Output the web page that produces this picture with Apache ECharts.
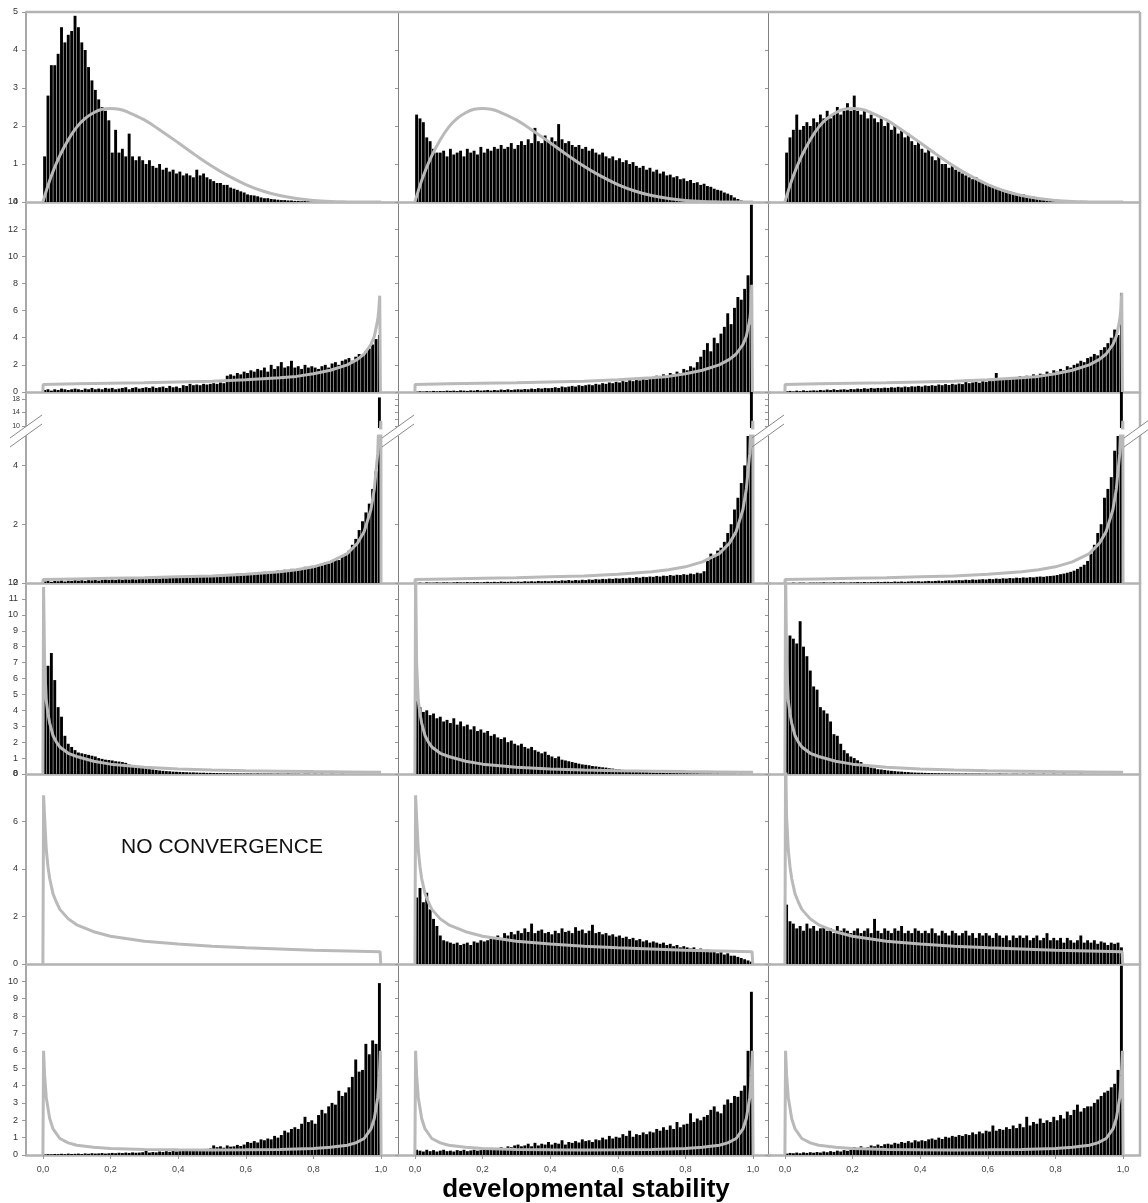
<!DOCTYPE html>
<html><head><meta charset="utf-8">
<script src="https://cdn.jsdelivr.net/npm/echarts@6/dist/echarts.min.js"></script>
<style>html,body{margin:0;padding:0;background:#fff}#c{width:1148px;height:1203px}</style>
</head><body><div id="c"></div>
<script>
// ---------- DATA (histogram bins of width 0.01 from 0 to 1) ----------
const binWidth = 0.01;
const xTicks = [0, 0.2, 0.4, 0.6, 0.8, 1.0];
const yTicks1 = [0, 1, 2, 3, 4, 5];
const yTicks2 = [0, 2, 4, 6, 8, 10, 12, 14];
const yTicks3Low = [0, 2, 4];
const yTicks3High = [10, 12, 14, 16, 18];
const yTicks4 = [0, 1, 2, 3, 4, 5, 6, 7, 8, 9, 10, 11, 12];
const yTicks5 = [0, 2, 4, 6, 8];
const yTicks6 = [0, 1, 2, 3, 4, 5, 6, 7, 8, 9, 10];

const r1c1 = [1.2,2.8,3.6,3.6,3.9,4.6,4.2,4.4,4.5,4.9,
4.6,4.2,4.0,3.55,3.2,2.95,2.7,2.5,2.4,2.15,
1.3,1.9,1.3,1.4,1.2,1.8,1.2,1.1,1.2,1.1,
1.0,1.1,0.95,0.9,1.0,0.85,0.9,0.8,0.85,0.75,
0.8,0.7,0.75,0.7,0.65,0.85,0.7,0.75,0.65,0.6,
0.55,0.5,0.5,0.45,0.45,0.38,0.35,0.32,0.28,0.25,
0.2,0.18,0.17,0.15,0.12,0.1,0.1,0.08,0.07,0.06,
0.05,0.05,0.04,0.04,0.03,0.03,0.02,0.03,0.02,0.01,
0,0,0,0,0,0,0,0,0,0,
0,0,0,0,0,0,0,0,0,0];
const r1c2 = [2.3,2.2,2.1,1.7,1.6,1.4,1.3,1.3,1.35,1.2,
1.4,1.25,1.3,1.35,1.2,1.4,1.3,1.35,1.25,1.45,
1.3,1.4,1.35,1.45,1.4,1.5,1.4,1.45,1.55,1.4,
1.5,1.6,1.5,1.65,1.55,1.95,1.6,1.55,1.75,1.6,
1.7,1.6,2.05,1.65,1.55,1.6,1.5,1.45,1.5,1.4,
1.45,1.35,1.4,1.3,1.25,1.3,1.2,1.15,1.2,1.1,
1.15,1.05,1.1,1.0,1.05,0.95,0.9,0.95,0.85,0.9,
0.8,0.85,0.75,0.8,0.7,0.72,0.65,0.68,0.6,0.62,
0.55,0.58,0.5,0.52,0.45,0.48,0.42,0.4,0.35,0.32,
0.3,0.25,0.22,0.18,0.12,0.08,0.04,0.02,0,0];
const r1c3 = [1.3,1.7,1.9,2.3,1.9,2.0,2.1,2.0,2.2,2.1,
2.3,2.2,2.4,2.2,2.3,2.5,2.3,2.4,2.6,2.4,
2.8,2.4,2.3,2.4,2.2,2.3,2.2,2.1,2.2,2.0,
2.1,1.9,2.0,1.8,1.9,1.7,1.8,1.6,1.5,1.6,
1.4,1.3,1.4,1.2,1.1,1.2,1.0,1.0,0.9,0.95,
0.85,0.8,0.75,0.7,0.65,0.6,0.65,0.55,0.5,0.45,
0.45,0.4,0.38,0.35,0.32,0.3,0.28,0.25,0.22,0.2,
0.2,0.17,0.15,0.14,0.12,0.1,0.1,0.08,0.07,0.06,
0.06,0.05,0.04,0.05,0.03,0.03,0.02,0.03,0.02,0.01,
0.02,0.01,0,0,0,0,0,0,0,0];

const r2c1 = [0.15,0.2,0.1,0.2,0.15,0.25,0.2,0.15,0.2,0.25,
0.2,0.15,0.25,0.2,0.3,0.2,0.25,0.2,0.3,0.25,
0.3,0.2,0.25,0.3,0.35,0.2,0.3,0.35,0.25,0.3,
0.35,0.3,0.4,0.3,0.35,0.4,0.3,0.45,0.35,0.4,
0.3,0.5,0.45,0.6,0.5,0.55,0.5,0.6,0.55,0.6,
0.65,0.6,0.7,0.65,1.2,1.3,1.2,1.4,1.3,1.5,
1.4,1.6,1.5,1.7,1.6,1.8,1.5,2.0,1.7,1.9,
2.2,1.8,1.9,2.3,1.8,1.9,1.7,2.0,1.8,1.9,
1.8,1.7,1.9,2.0,1.8,2.1,2.2,2.0,2.3,2.4,
2.5,2.3,2.6,2.8,2.7,3.0,3.2,3.5,3.9,4.2];
const r2c2 = [0.02,0.05,0.03,0.06,0.04,0.08,0.05,0.07,0.06,0.1,
0.08,0.1,0.07,0.12,0.1,0.08,0.12,0.1,0.15,0.1,
0.12,0.15,0.1,0.15,0.12,0.18,0.15,0.2,0.15,0.18,
0.2,0.18,0.22,0.2,0.25,0.22,0.28,0.25,0.3,0.28,
0.3,0.35,0.3,0.4,0.35,0.4,0.45,0.4,0.5,0.45,
0.5,0.55,0.5,0.6,0.55,0.65,0.6,0.7,0.65,0.75,
0.7,0.8,0.75,0.9,0.8,0.95,0.85,1.0,0.9,1.1,
1.0,1.2,1.1,1.3,1.2,1.4,1.3,1.5,1.4,1.7,
1.6,1.9,1.8,2.2,2.6,3.1,3.6,3.0,4.0,3.6,
4.3,4.8,5.8,5.0,6.2,7.0,6.8,7.6,8.6,13.8];
const r2c3 = [0.05,0.08,0.04,0.1,0.06,0.12,0.08,0.1,0.12,0.1,
0.15,0.12,0.18,0.14,0.2,0.15,0.18,0.2,0.16,0.22,
0.2,0.25,0.22,0.28,0.24,0.3,0.26,0.3,0.28,0.32,
0.3,0.35,0.32,0.38,0.34,0.4,0.36,0.42,0.4,0.45,
0.4,0.48,0.45,0.5,0.46,0.55,0.5,0.58,0.52,0.6,
0.55,0.62,0.58,0.9,0.65,0.7,0.75,0.68,0.8,0.75,
0.85,0.8,1.4,0.9,0.95,1.0,0.9,1.1,1.0,1.15,
1.1,1.2,1.15,1.3,1.2,1.35,1.3,1.5,1.4,1.6,
1.5,1.7,1.6,1.9,1.8,2.0,2.1,2.3,2.2,2.5,
2.6,2.8,2.7,3.1,3.3,3.6,4.0,4.6,4.2,7.3];

const r3c1 = [0.05,0.08,0.04,0.07,0.06,0.09,0.05,0.08,0.07,0.1,
0.08,0.1,0.07,0.11,0.09,0.12,0.08,0.1,0.13,0.1,
0.12,0.1,0.14,0.11,0.13,0.12,0.15,0.12,0.14,0.16,
0.13,0.16,0.14,0.17,0.15,0.18,0.16,0.19,0.17,0.2,
0.18,0.2,0.19,0.22,0.2,0.23,0.21,0.24,0.22,0.26,
0.24,0.26,0.25,0.28,0.26,0.3,0.27,0.32,0.29,0.31,
0.3,0.34,0.32,0.36,0.33,0.38,0.35,0.4,0.37,0.42,
0.4,0.45,0.42,0.48,0.46,0.5,0.48,0.55,0.52,0.58,
0.56,0.62,0.6,0.7,0.66,0.75,0.8,0.78,0.9,1.0,
1.1,1.3,1.5,1.8,2.1,2.4,2.7,3.2,3.8,18.4];
const r3c2 = [0,0.01,0,0.02,0.01,0.01,0.02,0.01,0.02,0.02,
0.01,0.02,0.03,0.02,0.02,0.03,0.02,0.03,0.03,0.02,
0.03,0.04,0.03,0.04,0.03,0.05,0.04,0.04,0.05,0.04,
0.05,0.04,0.06,0.05,0.06,0.05,0.07,0.06,0.07,0.06,
0.07,0.08,0.07,0.09,0.08,0.1,0.08,0.1,0.09,0.11,
0.1,0.12,0.11,0.13,0.12,0.14,0.13,0.15,0.14,0.16,
0.15,0.17,0.16,0.18,0.17,0.2,0.18,0.21,0.2,0.22,
0.21,0.24,0.22,0.25,0.24,0.27,0.25,0.28,0.27,0.3,
0.28,0.32,0.3,0.35,0.33,0.4,0.75,1.0,0.95,1.1,
1.2,1.4,1.7,2.0,2.5,2.9,3.4,4.0,5.6,20];
const r3c3 = [0,0,0.01,0,0.01,0.01,0,0.01,0.01,0.01,
0.01,0.02,0.01,0.01,0.02,0.01,0.02,0.02,0.01,0.02,
0.02,0.03,0.02,0.03,0.02,0.03,0.03,0.04,0.03,0.04,
0.04,0.03,0.05,0.04,0.05,0.04,0.05,0.06,0.05,0.06,
0.05,0.06,0.07,0.06,0.07,0.08,0.07,0.08,0.09,0.08,
0.09,0.1,0.09,0.11,0.1,0.12,0.11,0.12,0.13,0.12,
0.14,0.13,0.15,0.14,0.16,0.15,0.17,0.16,0.18,0.17,
0.19,0.18,0.2,0.19,0.21,0.22,0.21,0.23,0.24,0.25,
0.27,0.3,0.32,0.35,0.38,0.42,0.48,0.55,0.62,0.75,
1.0,1.3,1.7,2.0,2.9,3.2,3.6,4.5,7.0,20];

const r4c1 = [5.0,6.8,7.6,5.9,4.2,3.6,2.4,1.9,1.7,1.5,
1.35,1.3,1.25,1.2,1.15,1.1,1.0,0.95,0.9,0.88,
0.85,0.8,0.78,0.75,0.7,0.6,0.55,0.5,0.45,0.4,
0.35,0.3,0.28,0.25,0.22,0.2,0.18,0.17,0.15,0.14,
0.13,0.12,0.11,0.1,0.1,0.09,0.08,0.08,0.07,0.07,
0.06,0.06,0.05,0.05,0.05,0.04,0.04,0.04,0.03,0.03,
0.03,0.03,0.02,0.03,0.02,0.02,0.02,0.02,0.01,0.02,
0.01,0.01,0.02,0.01,0.01,0.01,0,0.01,0.01,0,
0.01,0,0.01,0,0,0.01,0,0,0.01,0,
0,0,0,0,0,0,0,0,0,0];
const r4c2 = [4.6,4.2,3.9,4.0,3.7,3.8,3.5,3.6,3.3,3.4,
3.2,3.5,3.1,3.3,3.0,3.1,2.8,3.0,2.7,2.8,
2.6,2.7,2.4,2.5,2.3,2.2,2.3,2.0,2.1,1.9,
1.8,1.9,1.7,1.6,1.7,1.5,1.4,1.3,1.4,1.2,
1.1,1.0,1.1,0.9,0.85,0.8,0.75,0.7,0.65,0.6,
0.58,0.55,0.5,0.48,0.45,0.42,0.4,0.36,0.34,0.3,
0.28,0.26,0.24,0.22,0.2,0.18,0.15,0.13,0.12,0.1,
0.09,0.08,0.08,0.07,0.06,0.06,0.05,0.05,0.04,0.04,
0.04,0.03,0.03,0.03,0.02,0.02,0.02,0.02,0.01,0.02,
0.01,0.01,0.01,0.01,0.01,0,0.01,0,0,0];
const r4c3 = [7.4,8.7,8.5,8.2,9.6,8.0,7.4,6.5,5.5,5.3,
4.2,4.0,3.8,3.3,2.5,2.4,1.9,1.5,1.3,1.1,
1.0,0.86,0.75,0.6,0.5,0.4,0.36,0.3,0.28,0.25,
0.22,0.2,0.18,0.16,0.15,0.13,0.12,0.1,0.09,0.08,
0.08,0.07,0.06,0.06,0.05,0.05,0.04,0.04,0.04,0.03,
0.03,0.03,0.02,0.03,0.02,0.02,0.02,0.02,0.01,0.02,
0.01,0.01,0.01,0.02,0.01,0.01,0,0.01,0.01,0,
0.01,0,0.01,0.01,0,0,0.01,0,0,0.01,
0,0,0.01,0,0,0,0,0.01,0,0,
0,0,0,0,0,0,0,0,0,0];

const r5c2 = [2.8,3.2,2.6,3.0,2.3,1.9,1.6,1.2,1.0,0.95,
0.9,0.85,0.9,0.8,0.85,0.9,0.8,0.95,0.9,1.0,
0.95,1.0,1.1,1.05,1.2,1.1,1.3,1.2,1.35,1.25,
1.4,1.3,1.5,1.35,1.7,1.3,1.4,1.45,1.3,1.35,
1.25,1.4,1.3,1.5,1.35,1.4,1.3,1.55,1.4,1.45,
1.3,1.4,1.65,1.3,1.35,1.25,1.3,1.2,1.25,1.15,
1.2,1.1,1.15,1.05,1.1,1.0,1.05,0.95,1.0,0.9,
0.95,0.9,0.85,0.9,0.8,0.85,0.75,0.8,0.7,0.75,
0.7,0.65,0.7,0.6,0.65,0.55,0.6,0.5,0.55,0.45,
0.5,0.4,0.45,0.35,0.35,0.3,0.25,0.2,0.15,0.1];
const r5c3 = [2.5,1.8,1.7,1.5,1.6,1.4,1.7,1.5,1.6,1.4,
1.5,1.6,1.4,1.5,1.3,1.6,1.4,1.5,1.4,1.3,
1.4,1.5,1.3,1.4,1.5,1.3,1.9,1.4,1.3,1.5,
1.4,1.3,1.5,1.4,1.6,1.3,1.4,1.3,1.5,1.4,
1.3,1.4,1.3,1.5,1.3,1.2,1.4,1.3,1.2,1.4,
1.3,1.2,1.3,1.4,1.2,1.3,1.1,1.3,1.2,1.3,
1.2,1.1,1.3,1.2,1.1,1.2,1.0,1.2,1.1,1.2,
1.1,1.2,1.0,1.1,1.2,1.0,1.1,1.3,1.0,1.1,
1.0,1.1,0.9,1.1,1.0,0.9,1.0,1.2,0.9,1.0,
0.9,1.0,0.85,0.95,0.9,0.8,0.9,0.85,0.9,0.7];

const r6c1 = [0.03,0.05,0.04,0.06,0.05,0.07,0.05,0.08,0.06,0.07,
0.08,0.06,0.09,0.07,0.1,0.08,0.09,0.11,0.08,0.1,
0.12,0.1,0.13,0.11,0.14,0.12,0.15,0.13,0.14,0.16,
0.35,0.14,0.17,0.15,0.2,0.17,0.22,0.18,0.25,0.2,
0.22,0.26,0.24,0.28,0.3,0.27,0.33,0.3,0.35,0.38,
0.55,0.45,0.5,0.42,0.55,0.48,0.5,0.58,0.52,0.6,
0.75,0.7,0.8,0.72,0.9,0.85,0.95,0.9,1.1,1.0,
1.15,1.4,1.3,1.5,1.6,1.5,1.8,2.2,1.9,2.0,
1.8,2.3,2.6,2.4,2.8,3.0,2.9,3.7,3.4,3.6,
3.9,4.5,5.5,4.8,4.9,6.4,5.8,6.6,6.4,9.9];
const r6c2 = [0.3,0.25,0.2,0.3,0.22,0.28,0.2,0.25,0.3,0.22,
0.25,0.2,0.28,0.24,0.3,0.22,0.26,0.3,0.25,0.28,
0.3,0.35,0.3,0.4,0.35,0.45,0.4,0.5,0.45,0.55,
0.6,0.5,0.55,0.65,0.5,0.7,0.55,0.65,0.6,0.75,
0.6,0.7,0.65,0.85,0.6,0.75,0.7,0.8,0.72,0.9,
0.8,0.85,0.75,0.9,0.85,1.0,0.9,1.1,0.95,1.05,
1.0,1.2,1.1,1.4,1.05,1.2,1.15,1.3,1.2,1.35,
1.3,1.5,1.4,1.6,1.45,1.7,1.5,1.9,1.6,1.75,
1.8,2.4,1.9,2.1,2.0,2.2,2.3,2.6,2.8,2.5,
2.4,2.9,3.2,3.0,3.4,3.35,3.7,4.0,6.0,9.4];
const r6c3 = [0.08,0.12,0.1,0.14,0.1,0.15,0.12,0.16,0.13,0.17,
0.14,0.2,0.16,0.22,0.18,0.25,0.2,0.28,0.24,0.3,
0.45,0.35,0.5,0.4,0.45,0.55,0.5,0.6,0.52,0.62,
0.65,0.6,0.7,0.65,0.75,0.7,0.8,0.72,0.85,0.78,
0.85,0.8,0.9,0.95,0.88,1.0,0.92,1.05,1.0,1.1,
1.05,1.15,1.1,1.2,1.15,1.3,1.2,1.35,1.25,1.4,
1.35,1.7,1.4,1.5,1.45,1.6,1.5,1.7,1.55,1.8,
1.6,2.2,1.7,1.9,1.8,2.1,1.85,2.0,1.9,2.2,
2.0,2.3,2.1,2.5,2.3,2.6,2.9,2.5,2.7,2.8,
2.8,3.0,3.2,3.4,3.6,3.7,3.9,4.1,4.9,10.9];

// fitted density curves
const curve1X = [0,0.025,0.05,0.075,0.1,0.125,0.15,0.175,0.2,0.225,0.25,0.3,0.35,0.4,0.45,0.5,0.55,0.6,0.65,0.7,0.75,0.8,0.85,0.9,0.95,1.0];
const curve1Y = [0,0.69,1.22,1.64,1.97,2.2,2.35,2.44,2.46,2.44,2.37,2.16,1.87,1.56,1.24,0.94,0.68,0.46,0.29,0.17,0.09,0.04,0.013,0.003,0,0];
const curve2X = [0,0.0005,0.1,0.2,0.3,0.4,0.5,0.6,0.7,0.75,0.8,0.85,0.9,0.93,0.95,0.97,0.98,0.99,0.993,0.996,0.998];
const curve2Y = [0,0.55,0.6,0.64,0.68,0.74,0.8,0.9,1.05,1.15,1.35,1.6,2.0,2.4,2.8,3.5,4.1,5.3,6.0,7.1,0];
const curve3X = [0,0.0005,0.1,0.2,0.3,0.4,0.5,0.6,0.7,0.75,0.8,0.85,0.9,0.93,0.95,0.97,0.98,0.99,0.995,0.998,0.9992,0.9998];
const curve3Y = [0,0.12,0.14,0.16,0.18,0.21,0.24,0.3,0.38,0.45,0.55,0.72,1.0,1.35,1.75,2.5,3.2,4.4,6.0,8.5,11.5,0];
const curve4X = [0,0.002,0.005,0.01,0.015,0.02,0.03,0.04,0.05,0.075,0.1,0.15,0.2,0.3,0.4,0.5,0.6,0.7,0.8,0.9,1.0];
const curve4Y = [0,11.75,7.0,4.6,3.8,3.2,2.4,2.0,1.7,1.3,1.1,0.8,0.62,0.42,0.32,0.25,0.21,0.18,0.15,0.13,0.11];
const curve5X = [0,0.002,0.005,0.01,0.015,0.02,0.03,0.04,0.05,0.075,0.1,0.15,0.2,0.3,0.4,0.5,0.6,0.7,0.8,0.9,0.997,0.999];
const curve5Y = [0,7.1,6.2,4.8,4.1,3.6,2.95,2.6,2.3,1.9,1.65,1.36,1.17,0.96,0.84,0.75,0.68,0.63,0.58,0.55,0.52,0];
const curve6X = [0,0.002,0.005,0.01,0.02,0.03,0.05,0.075,0.1,0.15,0.2,0.3,0.4,0.5,0.6,0.7,0.8,0.85,0.9,0.925,0.95,0.97,0.98,0.99,0.995,0.998,1.0];
const curve6Y = [0,6.0,4.6,3.3,2.1,1.5,0.95,0.7,0.56,0.44,0.38,0.32,0.3,0.29,0.3,0.32,0.38,0.44,0.56,0.7,0.95,1.5,2.1,3.3,4.6,6.0,0];
// spike height per panel (null = as in curve)
const spikePeaks = [[null,null,null],[7.1,7.9,7.3],[null,null,null],[11.75,13,13],[7.1,7.1,9],[null,null,null]];

// ---------- LAYOUT ----------
const LEFTS = [26, 398, 768], W = 372, RIGHT = 1140;
const rowSpecs = [
  [{top:12,  h:190, min:0, max:5,  ticks:yTicks1}],
  [{top:202, h:190, min:0, max:14, ticks:yTicks2}],
  [{top:436, h:147, min:0, max:5,  ticks:yTicks3Low}, {top:392, h:36, min:9.4, max:20, ticks:yTicks3High, upper:true}],
  [{top:583, h:191, min:0, max:12, ticks:yTicks4}],
  [{top:774, h:190, min:0, max:8,  ticks:yTicks5}],
  [{top:964, h:191, min:0, max:11, ticks:yTicks6}]
];
const hist = [[r1c1,r1c2,r1c3],[r2c1,r2c2,r2c3],[r3c1,r3c2,r3c3],[r4c1,r4c2,r4c3],[null,r5c2,r5c3],[r6c1,r6c2,r6c3]];
const curves = [[curve1X,curve1Y],[curve2X,curve2Y],[curve3X,curve3Y],[curve4X,curve4Y],[curve5X,curve5Y],[curve6X,curve6Y]];
const binX = hist[0][0].map((_, i) => +((i + 0.5) * binWidth).toFixed(4));

const FONT = 'Liberation Sans, Arial, Helvetica, sans-serif';
const grid = [], xAxis = [], yAxis = [], series = [];
let g = 0;
for (let r = 0; r < 6; r++) {
  for (let c = 0; c < 3; c++) {
    for (const s of rowSpecs[r]) {
      const bottomRow = (r === 5);
      grid.push({left: LEFTS[c], top: s.top, width: W, height: s.h, containLabel: false});
      xAxis.push({
        gridIndex: g, type: 'value', min: -0.05, max: 1.05,
        axisLine: {show: !s.upper, onZero: false, lineStyle: {color: '#b3b3b3', width: 2.5}},
        axisTick: {show: bottomRow, customValues: xTicks, length: 4, lineStyle: {color: '#999'}},
        axisLabel: {show: bottomRow, customValues: xTicks, fontSize: 9, color: '#444', fontFamily: FONT, margin: 10,
          formatter: v => Number(v).toFixed(1).replace('.', ',')},
        splitLine: {show: false}
      });
      yAxis.push({
        gridIndex: g, type: 'value', min: s.min, max: s.max,
        axisLine: {show: true, onZero: false, lineStyle: c === 0 ? {color: '#a8a8a8', width: 2} : {color: '#808080', width: 1}},
        axisTick: {show: true, customValues: s.ticks, length: c === 0 ? 4 : 3, lineStyle: {color: '#999'}},
        axisLabel: {show: c === 0, customValues: s.ticks, interval: 0, showMinLabel: true, showMaxLabel: true, hideOverlap: false,
          fontSize: s.upper ? 7 : 9, color: '#333', fontFamily: FONT, margin: s.upper ? 6 : 8},
        splitLine: {show: false}
      });
      const h = hist[r][c];
      if (h) {
        series.push({
          type: 'bar', xAxisIndex: g, yAxisIndex: g, barWidth: 2.9, clip: true, silent: true, z: 2,
          itemStyle: {color: '#000'},
          data: binX.map((x, i) => [x, h[i]])
        });
      }
      const [cx, cy] = curves[r];
      const pts = cx.map((x, i) => [x, cy[i]]);
      const pk = spikePeaks[r][c];
      if (pk !== null) {
        let mi = 0; cy.forEach((v, i) => { if (v > cy[mi]) mi = i; });
        pts[mi] = [cx[mi], pk];
      }
      series.push({
        type: 'line', xAxisIndex: g, yAxisIndex: g, data: pts, symbol: 'none', showSymbol: false,
        smooth: r === 0 ? 0.4 : false, clip: true, silent: true, z: 3,
        lineStyle: {color: '#b9b9b9', width: 3}
      });
      g++;
    }
  }
}

// frame & broken-axis marks
const graphic = [
  {type: 'line', shape: {x1: 26, y1: 12, x2: RIGHT, y2: 12}, style: {stroke: '#b3b3b3', lineWidth: 2.5}, z: 10},
  {type: 'line', shape: {x1: RIGHT, y1: 12, x2: RIGHT, y2: 1155}, style: {stroke: '#b3b3b3', lineWidth: 2.5}, z: 10}
];
[26, 398, 768, RIGHT].forEach(bx => {
  graphic.push({type: 'polygon', shape: {points: [[bx-6, 430.8], [bx+6, 422.2], [bx+6, 431.2], [bx-6, 439.8]]}, style: {fill: '#fff'}, z: 20});
  graphic.push({type: 'line', shape: {x1: bx-16, y1: 438, x2: bx+16, y2: 415}, style: {stroke: '#888', lineWidth: 1}, z: 21});
  graphic.push({type: 'line', shape: {x1: bx-16, y1: 447, x2: bx+16, y2: 424}, style: {stroke: '#888', lineWidth: 1}, z: 21});
});
graphic.push({type: 'text', x: 222, y: 847, z: 30, style: {text: 'NO CONVERGENCE', font: '21px ' + FONT, fill: '#111', textAlign: 'center', textVerticalAlign: 'middle', align: 'center', verticalAlign: 'middle'}});
graphic.push({type: 'text', x: 586, y: 1190, z: 30, style: {text: 'developmental stability', font: 'bold 26px ' + FONT, fill: '#000', textAlign: 'center', textVerticalAlign: 'middle', align: 'center', verticalAlign: 'middle'}});

const chart = echarts.init(document.getElementById('c'), null, {renderer: 'canvas', width: 1148, height: 1203});
chart.setOption({animation: false, backgroundColor: '#fff', grid, xAxis, yAxis, series, graphic});
</script></body></html>
